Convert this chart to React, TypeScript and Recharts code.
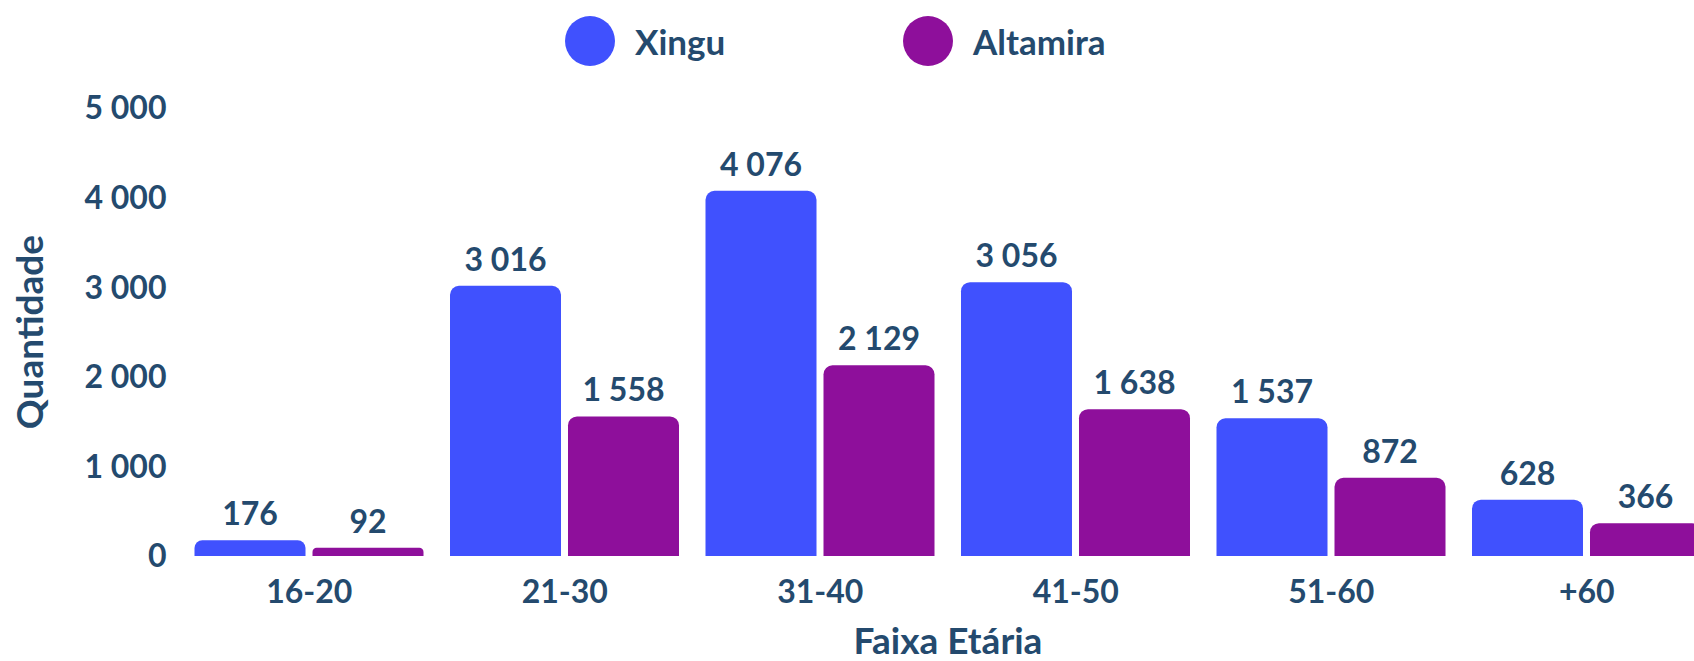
import React from 'react';
import { BarChart, Bar, XAxis, YAxis, Legend, LabelList } from 'recharts';

// age groups and counts per municipality
const faixas = ['16-20', '21-30', '31-40', '41-50', '51-60', '+60'];
const xingu = [176, 3016, 4076, 3056, 1537, 628];
const altamira = [92, 1558, 2129, 1638, 872, 366];
const yTicks = [0, 1000, 2000, 3000, 4000, 5000];

const series = [
  { key: 'Xingu', color: '#4051FE' },
  { key: 'Altamira', color: '#8E0F9B' },
];

const textColor = '#244A6E';
const font = 'Lato, "Open Sans", sans-serif';

const data = faixas.map((f, i) => ({ faixa: f, Xingu: xingu[i], Altamira: altamira[i] }));

// "4076" -> "4 076"
const fmt = (v: any) => {
  const s = String(Math.round(Number(v)));
  return s.length > 3 ? s.slice(0, -3) + ' ' + s.slice(-3) : s;
};

const textStyle = { fill: textColor, fontSize: 32, fontWeight: 700, fontFamily: font };

const renderLegend = () => (
  <div style={{ display: 'flex', fontFamily: font, fontWeight: 700, fontSize: 35, color: textColor }}>
    {series.map((s) => (
      <div key={s.key} style={{ display: 'flex', alignItems: 'center', width: 338 }}>
        <span style={{ width: 50, height: 50, borderRadius: '50%', background: s.color, marginRight: 20 }} />
        <span>{s.key}</span>
      </div>
    ))}
  </div>
);

export default function App() {
  return (
    <div style={{ position: 'fixed', left: 0, top: 0, width: 1694, height: 661, overflow: 'hidden', background: '#fff' }}>
      <BarChart
        width={1720}
        height={661}
        data={data}
        margin={{ top: 108, right: 5.5, bottom: 0, left: 0 }}
        barCategoryGap={13}
        barGap={7}
      >
        <XAxis
          dataKey="faixa"
          axisLine={false}
          tickLine={false}
          tickSize={0}
          tickMargin={24}
          height={105}
          interval={0}
          tick={textStyle}
          label={{ value: 'Faixa Etária', position: 'insideBottom', offset: 7, ...textStyle, fontSize: 37 }}
        />
        <YAxis
          domain={[0, 5000]}
          ticks={yTicks}
          width={181.5}
          axisLine={false}
          tickLine={false}
          tickSize={0}
          tickMargin={15}
          tickFormatter={fmt}
          tick={textStyle}
          label={{
            value: 'Quantidade',
            angle: -90,
            position: 'insideLeft',
            offset: 30,
            ...textStyle,
            fontSize: 37,
            style: { textAnchor: 'middle' },
          }}
        />
        <Legend
          verticalAlign="middle"
          align="center"
          content={renderLegend}
          wrapperStyle={{ top: 15.5, left: 565, width: 800 }}
        />
        {series.map((s) => (
          <Bar key={s.key} dataKey={s.key} fill={s.color} radius={[9, 9, 0, 0]} isAnimationActive={false}>
            <LabelList dataKey={s.key} position="top" offset={15} formatter={fmt} {...textStyle} />
          </Bar>
        ))}
      </BarChart>
    </div>
  );
}
